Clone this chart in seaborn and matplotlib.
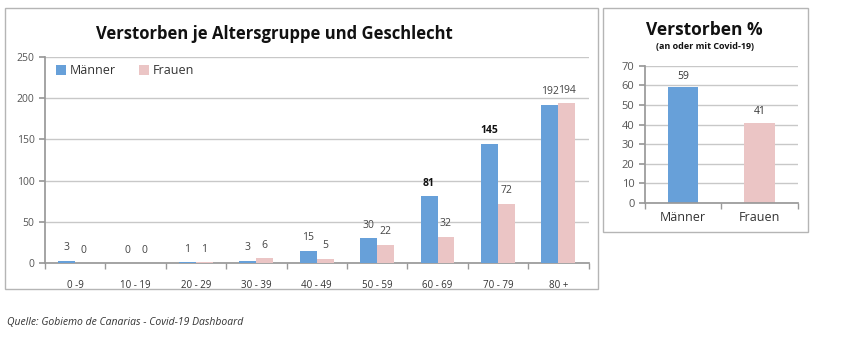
import numpy as np
import pandas as pd
import matplotlib
matplotlib.use('Agg')
import matplotlib.pyplot as plt
from matplotlib.patches import Rectangle
import seaborn as sns

# data
altersgruppen = ['0 -9', '10 - 19', '20 - 29', '30 - 39', '40 - 49',
                 '50 - 59', '60 - 69', '70 - 79', '80 +']
maenner = [3, 0, 1, 3, 15, 30, 81, 145, 192]
frauen = [0, 0, 1, 6, 5, 22, 32, 72, 194]
geschlecht = ['Männer', 'Frauen']
prozent = [59, 41]

blau = '#67a0d9'
rosa = '#ebc5c5'
grid_col = '#c8c8c8'
tick_col = '#555555'

sns.set_theme(style='white')
plt.rcParams['font.family'] = ['Open Sans', 'DejaVu Sans']

df = pd.DataFrame({
    'gruppe': altersgruppen * 2,
    'wert': maenner + frauen,
    'geschlecht': ['Männer'] * len(maenner) + ['Frauen'] * len(frauen),
})
df2 = pd.DataFrame({'geschlecht': geschlecht, 'prozent': prozent})

fig = plt.figure(figsize=(8.44, 3.58), dpi=100)

# panel frames
fig.patches.append(Rectangle((0.006, 0.193), 0.703, 0.785, transform=fig.transFigure,
                             fill=False, edgecolor='#b5b5b5', lw=1.0))
fig.patches.append(Rectangle((0.7145, 0.352), 0.243, 0.626, transform=fig.transFigure,
                             fill=False, edgecolor='#b5b5b5', lw=1.0))

# ---------- left chart ----------
ax = fig.add_axes([0.0533, 0.2654, 0.644, 0.5754])
sns.barplot(data=df, x='gruppe', y='wert', hue='geschlecht',
            palette={'Männer': blau, 'Frauen': rosa}, width=0.56,
            gap=0, ax=ax, saturation=1, linewidth=0, edgecolor='none')
ax.set_ylim(0, 250)
ax.set_xlim(-0.5, 8.5)
ax.set_yticks(range(0, 251, 50))
ax.yaxis.grid(True, color=grid_col, lw=1)
ax.set_axisbelow(True)
for p in ax.patches:
    p.set_zorder(3)
for s in ['top', 'right']:
    ax.spines[s].set_visible(False)
ax.spines['left'].set_color('#999999')
ax.spines['bottom'].set_color('#999999')
ax.set_xlabel('')
ax.set_ylabel('')
ax.tick_params(axis='y', labelsize=7.5, colors=tick_col, length=4, left=True,
               direction='out', color='#999999')
ax.tick_params(axis='x', labelsize=7, colors='#333333', length=0, pad=12)
ax.set_xticks(np.arange(-0.5, 8.6, 1), minor=True)
ax.tick_params(axis='x', which='minor', length=4, bottom=True, color='#999999')

fett = {81, 145}
for cont, vals in zip(ax.containers, [maenner, frauen]):
    for rect, v in zip(cont, vals):
        x = rect.get_x() + rect.get_width() / 2
        ax.text(x, v + 9, str(v), ha='center', va='bottom', fontsize=7.5,
                color='#111111' if v in fett else '#444444',
                fontweight='bold' if v in fett else 'normal')

ax.legend(loc='upper left', bbox_to_anchor=(0.0, 1.02), ncol=2, frameon=False,
          fontsize=9, handlelength=0.8, handleheight=0.8, handletextpad=0.3,
          columnspacing=1.8, labelcolor='#333333')
fig.text(0.325, 0.905, 'Verstorben je Altersgruppe und Geschlecht', ha='center',
         va='center', fontsize=12, fontweight='bold', color='#111111')

# ---------- right chart ----------
ax2 = fig.add_axes([0.764, 0.433, 0.181, 0.383])
sns.barplot(data=df2, x='geschlecht', y='prozent', hue='geschlecht',
            palette={'Männer': blau, 'Frauen': rosa}, width=0.4,
            ax=ax2, saturation=1, legend=False, linewidth=0, edgecolor='none')
ax2.set_ylim(0, 70)
ax2.set_xlim(-0.5, 1.5)
ax2.set_yticks(range(0, 71, 10))
ax2.yaxis.grid(True, color=grid_col, lw=1)
ax2.set_axisbelow(True)
for s in ['top', 'right']:
    ax2.spines[s].set_visible(False)
ax2.spines['left'].set_color('#999999')
ax2.spines['bottom'].set_color('#999999')
ax2.set_xlabel('')
ax2.set_ylabel('')
ax2.tick_params(axis='y', labelsize=8, colors=tick_col, length=4, left=True,
                color='#999999')
ax2.tick_params(axis='x', labelsize=9, colors='#333333', length=0, pad=6)
ax2.set_xticks([-0.5, 0.5, 1.5], minor=True)
ax2.tick_params(axis='x', which='minor', length=4, bottom=True, color='#999999')
for cont in ax2.containers:
    for rect in cont:
        v = rect.get_height()
        ax2.text(rect.get_x() + rect.get_width() / 2, v + 3, f'{v:.0f}',
                 ha='center', va='bottom', fontsize=7.5, color='#333333')

fig.text(0.835, 0.915, 'Verstorben %', ha='center', va='center', fontsize=12.5,
         fontweight='bold', color='#111111')
fig.text(0.835, 0.870, '(an oder mit Covid-19)', ha='center', va='center',
         fontsize=6.5, fontweight='bold', color='#111111')

fig.text(0.008, 0.10, 'Quelle: Gobiemo de Canarias - Covid-19 Dashboard',
         ha='left', va='center', fontsize=7.5, style='italic', color='#333333')

fig.savefig('out.png', dpi=100)
